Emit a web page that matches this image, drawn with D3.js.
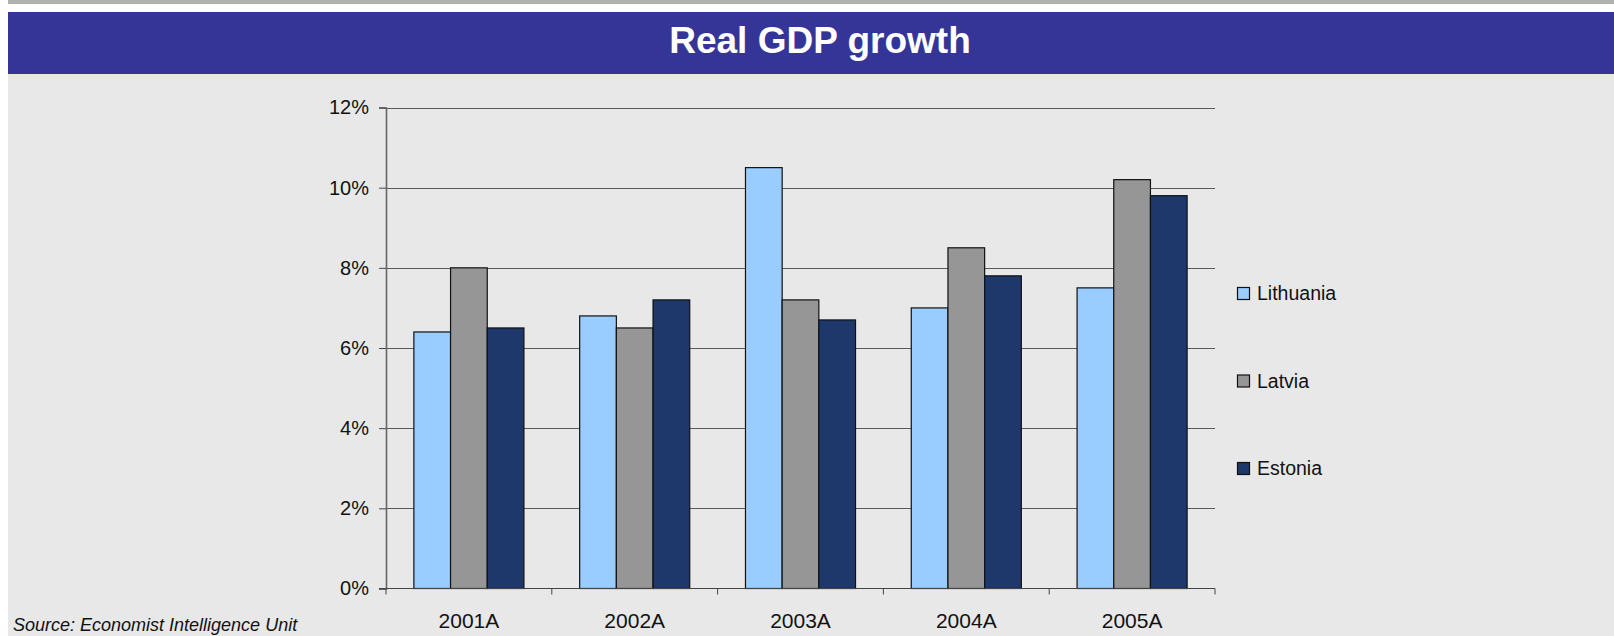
<!DOCTYPE html>
<html>
<head>
<meta charset="utf-8">
<script src="https://cdn.jsdelivr.net/npm/d3@7"></script>
<style>
  body { margin: 0; background: #fff; }
  svg { display: block; font-family: "Liberation Sans", Arial, sans-serif; }
</style>
</head>
<body>
<div id="viz"></div>
<script>
const years = ["2001A", "2002A", "2003A", "2004A", "2005A"];
const countries = ["Lithuania", "Latvia", "Estonia"];
const lithuania = [6.4, 6.8, 10.5, 7.0, 7.5];
const latvia = [8.0, 6.5, 7.2, 8.5, 10.2];
const estonia = [6.5, 7.2, 6.7, 7.8, 9.8];
const yTicks = [0, 2, 4, 6, 8, 10, 12];

const colors = {"Lithuania": "#99ccff", "Latvia": "#969696", "Estonia": "#1f386b"};

const values = {"Lithuania": lithuania, "Latvia": latvia, "Estonia": estonia};
const rows = [];
years.forEach((y, i) => {
  countries.forEach(c => rows.push({year: y, country: c, value: values[c][i]}));
});

const width = 1614,
  height = 636;

const svg = d3.select("#viz")
  .append("svg")
  .attr("width", width)
  .attr("height", height);

// page frame
svg.append("rect").attr("x", 8).attr("y", 0).attr("width", width - 8).attr("height", 4).attr("fill", "#b0b0ae");
svg.append("rect").attr("x", 8).attr("y", 74).attr("width", width - 8).attr("height", height - 74).attr("fill", "#e8e8e8");
svg.append("rect").attr("x", 8).attr("y", 12).attr("width", width - 8).attr("height", 62).attr("fill", "#353598");

svg.append("text")
  .attr("x", 820)
  .attr("y", 53)
  .attr("text-anchor", "middle")
  .attr("fill", "#fff")
  .style("font-size", "37px")
  .style("font-weight", "bold")
  .text("Real GDP growth");

const x = d3.scaleBand().domain(years).range([386, 1215]);
const xInner = d3.scaleBand().domain(countries).range([0, x.bandwidth()]).paddingOuter(0.76);
const y = d3.scaleLinear().domain([0, 12]).range([588.5, 107.5]);

// gridlines
svg.append("g")
  .selectAll("line")
  .data(yTicks.filter(d => d > 0))
  .join("line")
  .attr("x1", x.range()[0])
  .attr("x2", x.range()[1])
  .attr("y1", d => Math.round(y(d)) + 0.5)
  .attr("y2", d => Math.round(y(d)) + 0.5)
  .attr("stroke", "#5a5a5a")
  .attr("stroke-width", 1);

// bars
svg.append("g")
  .selectAll("rect")
  .data(rows)
  .join("rect")
  .attr("x", d => x(d.year) + xInner(d.country))
  .attr("y", d => y(d.value))
  .attr("width", xInner.bandwidth())
  .attr("height", d => y(0) - y(d.value))
  .attr("fill", d => colors[d.country])
  .attr("stroke", "#111")
  .attr("stroke-width", 1.2);

// y axis
const yAxis = svg.append("g")
  .attr("transform", `translate(${x.range()[0]},0)`)
  .call(d3.axisLeft(y).tickValues(yTicks).tickSize(7).tickPadding(10).tickFormat(d => d + "%"));
yAxis.select(".domain").attr("stroke", "#666").attr("stroke-width", 1.6);
yAxis.selectAll(".tick line").attr("stroke", "#444");
yAxis.selectAll(".tick text")
  .attr("fill", "#111")
  .style("font-size", "20px")
  .style("font-family", "'Liberation Sans', Arial, sans-serif");

// x axis
const xAxis = svg.append("g")
  .attr("transform", `translate(0,${y(0)})`)
  .call(d3.axisBottom(x).tickSize(0).tickPadding(25));
xAxis.select(".domain").remove();
xAxis.selectAll(".tick text")
  .attr("fill", "#111")
  .style("font-size", "21px")
  .style("font-family", "'Liberation Sans', Arial, sans-serif");
xAxis.append("line")
  .attr("x1", x.range()[0] - 7)
  .attr("x2", x.range()[1])
  .attr("stroke", "#444")
  .attr("stroke-width", 1.2);
xAxis.selectAll(".bound")
  .data(years.map(d => x(d)).concat([x.range()[1]]))
  .join("line")
  .attr("class", "bound")
  .attr("x1", d => d)
  .attr("x2", d => d)
  .attr("y1", 0)
  .attr("y2", 6)
  .attr("stroke", "#444");

// legend
const legend = svg.append("g")
  .selectAll("g")
  .data(countries)
  .join("g")
  .attr("transform", (d, i) => `translate(1237,${293 + i * 87.5})`);
legend.append("rect")
  .attr("x", 0.5)
  .attr("y", -5.5)
  .attr("width", 12)
  .attr("height", 12)
  .attr("fill", d => colors[d])
  .attr("stroke", "#111")
  .attr("stroke-width", 1.2);
legend.append("text")
  .attr("x", 20)
  .attr("y", 7)
  .attr("fill", "#111")
  .style("font-size", "19.5px")
  .text(d => d);

svg.append("text")
  .attr("x", 13)
  .attr("y", 631)
  .attr("fill", "#111")
  .style("font-size", "18px")
  .style("font-style", "italic")
  .text("Source: Economist Intelligence Unit");
</script>
</body>
</html>
